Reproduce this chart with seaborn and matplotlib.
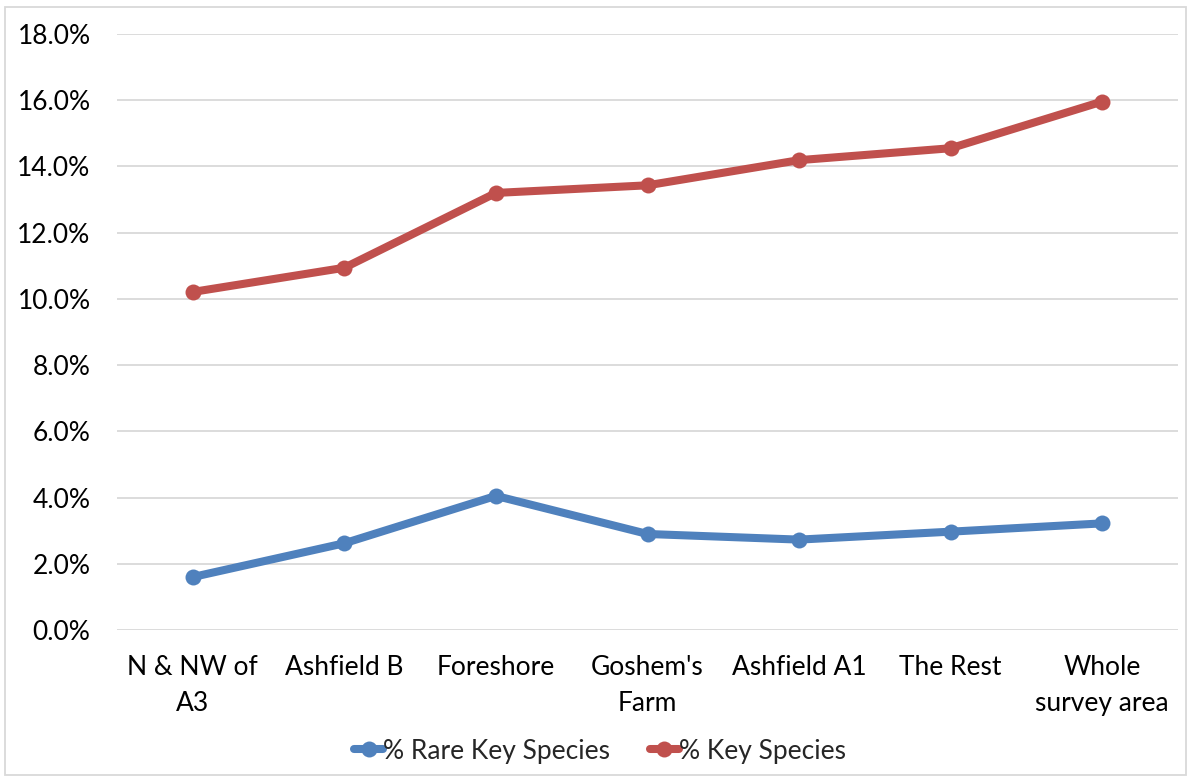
import matplotlib
matplotlib.use("Agg")
import matplotlib.pyplot as plt
import seaborn as sns
import pandas as pd
from matplotlib.patches import Rectangle
from matplotlib.ticker import MultipleLocator, FuncFormatter

categories = ["N & NW of\nA3", "Ashfield B", "Foreshore", "Goshem's\nFarm",
              "Ashfield A1", "The Rest", "Whole\nsurvey area"]
rare_key = [1.6, 2.62, 4.05, 2.9, 2.73, 2.97, 3.22]
key = [10.21, 10.94, 13.2, 13.43, 14.19, 14.55, 15.96]
series_names = ["% Rare Key Species", "% Key Species"]
colors = ["#4F81BD", "#C0504D"]

df = pd.DataFrame({
    "cat": categories * 2,
    "x": list(range(len(categories))) * 2,
    "value": rare_key + key,
    "series": [series_names[0]] * len(categories) + [series_names[1]] * len(categories),
})

sns.set_theme(style="white")
plt.rcParams["font.family"] = ["Lato", "DejaVu Sans"]

fig = plt.figure(figsize=(11.89, 7.78), dpi=100)
ax = fig.add_axes([117/1189, 1-630/778, (1178-117)/1189, (630-34)/778])

sns.lineplot(data=df, x="x", y="value", hue="series", palette=colors,
             marker="o", markersize=11.5, markeredgewidth=0, linewidth=5.8,
             ax=ax, legend=True)

ax.set_xlim(-0.5, len(categories) - 0.5)
ax.set_ylim(0, 18)
ax.yaxis.set_major_locator(MultipleLocator(2))
ax.yaxis.set_major_formatter(FuncFormatter(lambda v, p: f"{v:.1f}%"))
ax.set_xticks(range(len(categories)))
ax.set_xticklabels(categories, linespacing=1.55)
ax.tick_params(axis="both", labelsize=19, length=0, colors="#000000")
ax.tick_params(axis="y", pad=19)
ax.tick_params(axis="x", pad=18)
ax.grid(axis="y", color="#D9D9D9", linewidth=1.3)
ax.set_axisbelow(True)
for s in ax.spines.values():
    s.set_visible(False)
ax.set_xlabel("")
ax.set_ylabel("")

handles, labels = ax.get_legend_handles_labels()
ax.legend(handles, labels, loc="center", bbox_to_anchor=(600/1189, 1-751/778),
          bbox_transform=fig.transFigure, ncol=2, frameon=False, fontsize=19,
          handlelength=1.1, handletextpad=0.0, columnspacing=1.5)

fig.patches.append(Rectangle((5/1189, 3/778), 1181/1189, 768/778,
                             transform=fig.transFigure, fill=False,
                             edgecolor="#D9D9D9", linewidth=1.3))

fig.savefig("out.png", dpi=100)
